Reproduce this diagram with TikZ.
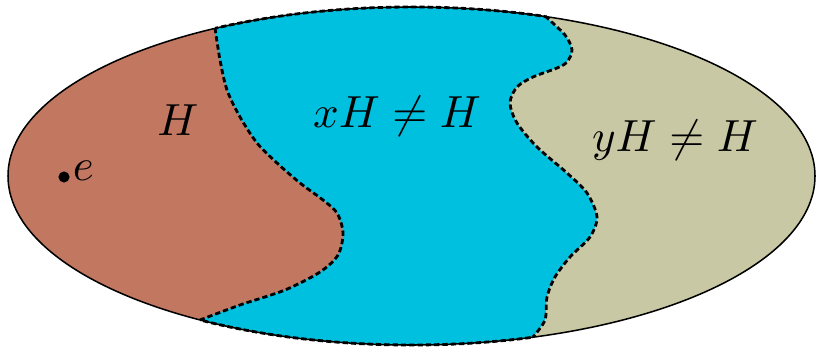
\documentclass[tikz,border=0pt]{standalone}
\usetikzlibrary{positioning}
\definecolor{cosetred}{RGB}{194,119,97}
\definecolor{cosetblue}{RGB}{0,192,224}
\definecolor{cosetkhaki}{RGB}{200,200,164}
\tikzset{
    cut/.style={line width=2.4pt, dash pattern=on 4.5pt off 2.6pt},
    rim/.style={line width=1.3pt},
    coset/.style={inner sep=0pt, anchor=base, scale=3.84},
    dot/.style={circle, fill=black, inner sep=0pt, minimum size=9.5pt}
}
\newcommand\wholegroup{(411.5,176) ellipse [x radius=403.5, y radius=169]}
\newcommand\cutone{plot[smooth] coordinates {(215,28) (220,60) (227,90) (240,117) (257,143) (277,163) (300,183) (323,200) (337,213) (343,233) (338,255) (320,272) (285,290) (240,305) (200,320)}}
\newcommand\cuttwo{plot[smooth] coordinates {(545,16) (565,35) (572,50) (567,62) (557,68) (533,77) (517,87) (510,103) (517,123) (537,147) (567,173) (587,193) (597,217) (590,237) (570,257) (555,277) (547,297) (545,320) (533,337)}}

\begin{document}
\begin{tikzpicture}[x=0.03cm, y=-0.03cm]
    \useasboundingbox (0,0) rectangle (821,347);
    \fill[cosetred] \wholegroup;
    \begin{scope}
        \clip \wholegroup;
        \fill[cosetblue] \cutone -- (200,400) -- (900,400) -- (900,-50) -- (215,-50) -- cycle;
        \fill[cosetkhaki] \cuttwo -- (533,400) -- (900,400) -- (900,-50) -- (545,-50) -- cycle;
    \end{scope}
    \draw[rim] \wholegroup;
    % dashed rim of xH
    \begin{scope}
        \clip \cutone -- (200,400) -- (900,400) -- (900,-50) -- (215,-50) -- cycle;
        \clip \cuttwo -- (533,400) -- (-50,400) -- (-50,-50) -- (545,-50) -- cycle;
        \draw[cut] \wholegroup;
    \end{scope}
    \draw[cut] \cutone;
    \draw[cut] \cuttwo;

    \node[coset] (h) at (178,136) {$H$};
    \node[coset] (xh) at (397,128) {$xH \neq H$};
    \node[coset] (yh) at (675,152) {$yH \neq H$};
    \node[dot] (identity) at (64,177) {};
    \node[coset, anchor=base west] (e) at (72,181) {$e$};
\end{tikzpicture}
\end{document}
